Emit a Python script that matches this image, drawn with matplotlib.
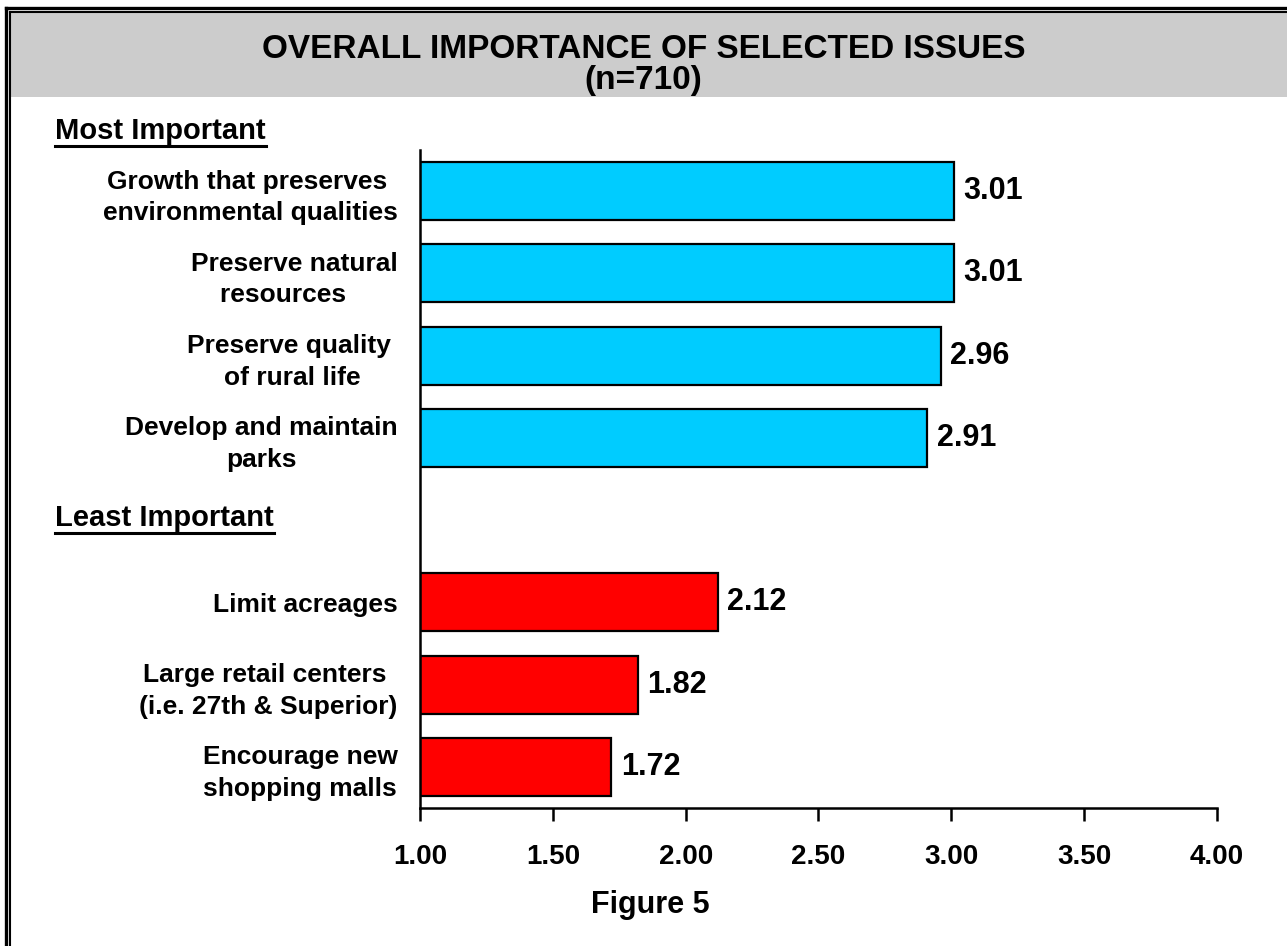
import matplotlib
matplotlib.use("Agg")
import matplotlib.pyplot as plt
from matplotlib.lines import Line2D
from matplotlib.patches import Rectangle

plt.rcParams['font.family'] = ['Liberation Sans', 'DejaVu Sans']
plt.rcParams['font.weight'] = 'bold'

# ---- data ----
most_labels = ["Growth that preserves \nenvironmental qualities",
               "Preserve natural\nresources   ",
               "Preserve quality \nof rural life",
               "Develop and maintain\nparks"]
most_values = [3.01, 3.01, 2.96, 2.91]
least_labels = ["Limit acreages",
                "Large retail centers \n(i.e. 27th & Superior)",
                "Encourage new\nshopping malls"]
least_values = [2.12, 1.82, 1.72]
x_ticks = [1.00, 1.50, 2.00, 2.50, 3.00, 3.50, 4.00]
title_lines = ["OVERALL IMPORTANCE OF SELECTED ISSUES", "(n=710)"]
most_header = "Most Important"
least_header = "Least Important"
figure_caption = "Figure 5"

W, H = 1287, 946
fig = plt.figure(figsize=(W / 100, H / 100), dpi=100)
fig.patch.set_facecolor('white')

def fx(px): return px / W
def fy(py): return 1 - py / H

# gray title band and double frame lines (left and top)
fig.add_artist(Rectangle((fx(11), fy(97)), 1 - fx(11), fy(13) - fy(97),
                         transform=fig.transFigure, facecolor='#cccccc',
                         edgecolor='none', zorder=0))
fig.add_artist(Line2D([fx(6), fx(6)], [0, fy(8)], transform=fig.transFigure, color='black', lw=2.4))
fig.add_artist(Line2D([fx(6), 1], [fy(8), fy(8)], transform=fig.transFigure, color='black', lw=2.4))
fig.add_artist(Line2D([fx(10), fx(10)], [0, fy(11.8)], transform=fig.transFigure, color='black', lw=1.5))
fig.add_artist(Line2D([fx(10), 1], [fy(11.8), fy(11.8)], transform=fig.transFigure, color='black', lw=1.5))

fig.text(0.5, fy(49), title_lines[0], ha='center', va='center', fontsize=24, fontweight='bold')
fig.text(0.5, fy(81), title_lines[1], ha='center', va='center', fontsize=24, fontweight='bold')

ax = fig.add_axes([fx(420), fy(808), fx(1217) - fx(420), (808 - 150) / H])

most_pos = list(range(len(most_values)))
least_pos = [len(most_values) + 1 + i for i in range(len(least_values))]
bar_h = 0.707

ax.barh(most_pos, [v - 1 for v in most_values], left=1, height=bar_h,
        color='#00ccff', edgecolor='black', linewidth=1.6, zorder=2)
ax.barh(least_pos, [v - 1 for v in least_values], left=1, height=bar_h,
        color='#ff0000', edgecolor='black', linewidth=1.6, zorder=2)

for p, v in zip(most_pos + least_pos, most_values + least_values):
    ax.annotate(f"{v:.2f}", (v, p), xytext=(7, 0), textcoords='offset points',
                ha='left', va='center', fontsize=22, fontweight='bold')

ax.set_xlim(1, 4)
ax.set_ylim(len(most_values) + len(least_values) + 0.5, -0.5)
ax.set_xticks(x_ticks)
ax.set_xticklabels([f"{t:.2f}" for t in x_ticks], fontsize=20, fontweight='bold')
ax.tick_params(axis='x', direction='out', length=9, width=1.8, pad=17)

ax.set_yticks(most_pos + least_pos)
ax.set_yticklabels(most_labels + least_labels, fontsize=19, fontweight='bold')
ax.tick_params(axis='y', length=0, pad=16)
for lab in ax.get_yticklabels():
    lab.set_multialignment('center')
    lab.set_linespacing(1.4)

for s in ['top', 'right']:
    ax.spines[s].set_visible(False)
for s in ['left', 'bottom']:
    ax.spines[s].set_linewidth(1.8)
ax.set_facecolor('none')

t1 = fig.text(fx(55), fy(131), most_header, ha='left', va='center', fontsize=21, fontweight='bold')
t2 = fig.text(fx(55), fy(518), least_header, ha='left', va='center', fontsize=21, fontweight='bold')
fig.text(fx(650), fy(905), figure_caption, ha='center', va='center', fontsize=22, fontweight='bold')

fig.canvas.draw()
r = fig.canvas.get_renderer()
for t in (t1, t2):
    bb = t.get_window_extent(r)
    yline = bb.y0 - 1
    fig.add_artist(Line2D([bb.x0 / W, bb.x1 / W], [yline / H, yline / H],
                          transform=fig.transFigure, color='black', lw=2.2))

fig.savefig("out.png", dpi=100)
